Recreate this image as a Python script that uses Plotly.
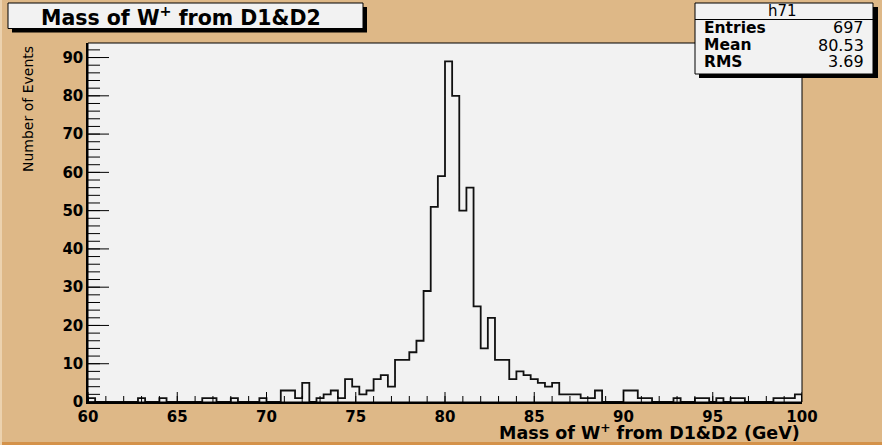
import numpy as np
import plotly.graph_objects as go

# ---------------- data ----------------
x_min, x_max, n_bins = 60.0, 100.0, 100
counts = [
    1, 0, 0, 0, 0, 0, 0, 1, 0, 0,      # 60.0 - 64.0
    1, 0, 0, 0, 0, 0, 1, 1, 0, 0,      # 64.0 - 68.0
    1, 0, 0, 0, 1, 0, 0, 3, 3, 1,      # 68.0 - 72.0
    5, 0, 1, 2, 3, 1, 6, 4, 2, 3,      # 72.0 - 76.0
    6, 7, 4, 11, 11, 13, 16, 29, 51, 59,   # 76.0 - 80.0
    89, 80, 50, 56, 25, 14, 22, 11, 11, 6, # 80.0 - 84.0
    8, 7, 6, 5, 4, 5, 2, 2, 2, 1,      # 84.0 - 88.0
    1, 3, 0, 0, 0, 3, 3, 1, 1, 0,      # 88.0 - 92.0
    0, 0, 1, 0, 0, 1, 1, 0, 1, 0,      # 92.0 - 96.0
    1, 1, 0, 0, 0, 0, 1, 1, 1, 2,      # 96.0 - 100.0
]
x_tick_vals = [60, 65, 70, 75, 80, 85, 90, 95, 100]
x_tick_labels = ["60", "65", "70", "75", "80", "85", "90", "95", "100"]
y_tick_vals = [0, 10, 20, 30, 40, 50, 60, 70, 80, 90]
y_tick_labels = ["0", "10", "20", "30", "40", "50", "60", "70", "80", "90"]
x_minor_step = 1
y_minor_step = 2
hist_name = "h71"
stat_labels = ["Entries", "Mean", "RMS"]
stat_values = ["697", "80.53", "3.69"]
title_text = "<b>Mass of W<sup>+</sup> from D1&D2</b>"
x_title = "<b>Mass of W<sup>+</sup> from D1&D2 (GeV)</b>"
y_title = "Number of Events"
y_max = 93.8

edges = np.linspace(x_min, x_max, n_bins + 1)
xs = [edges[0]] + list(edges) + [edges[-1]]
ys = [0] + list(counts) + [counts[-1], 0]

# ---------------- layout helpers ----------------
W, H = 882, 445
L, R, T, B = 88, 802, 43, 402
PW, PH = R - L, B - T


def px(x):
    return (x - L) / PW


def py(y):
    return (B - y) / PH


TAN = "#deb887"
PANEL = "#f2f2f2"
FONT = dict(family="DejaVu Sans", color="black")

fig = go.Figure()
fig.add_trace(go.Scatter(
    x=xs, y=ys, mode="lines", line=dict(color="#111111", width=1.8, shape="hv"),
    hoverinfo="skip", showlegend=False,
))

shapes = []
# plot frame
shapes.append(dict(type="rect", xref="paper", yref="paper", x0=0, x1=1, y0=0, y1=1,
                   line=dict(color="black", width=1), fillcolor="rgba(0,0,0,0)", layer="above"))

# inside tick marks, placed on the axes' own scales (length in pixels of the plot area)
TICK = dict(color="black", width=1)
x_minor = np.arange(x_min, x_max + x_minor_step / 2, x_minor_step)
y_minor = np.arange(0, y_max, y_minor_step)
for v in x_minor:
    shapes.append(dict(type="line", xref="x", yref="paper", x0=v, x1=v, y0=0, y1=6 / PH,
                       line=TICK, layer="above"))
for v in x_tick_vals:
    shapes.append(dict(type="line", xref="x", yref="paper", x0=v, x1=v, y0=0, y1=10 / PH,
                       line=TICK, layer="above"))
for v in y_minor:
    shapes.append(dict(type="line", xref="paper", yref="y", x0=0, x1=12 / PW, y0=v, y1=v,
                       line=TICK, layer="above"))
for v in y_tick_vals:
    shapes.append(dict(type="line", xref="paper", yref="y", x0=0, x1=21 / PW, y0=v, y1=v,
                       line=TICK, layer="above"))

# title box with shadow
shapes.append(dict(type="rect", xref="paper", yref="paper", x0=px(12), x1=px(367), y0=py(7), y1=py(32.5),
                   fillcolor="black", line=dict(width=0), layer="above"))
shapes.append(dict(type="rect", xref="paper", yref="paper", x0=px(8), x1=px(363), y0=py(3), y1=py(28.5),
                   fillcolor=PANEL, line=dict(color="black", width=1), layer="above"))
# stats box with shadow
shapes.append(dict(type="rect", xref="paper", yref="paper", x0=px(699), x1=px(878), y0=py(7), y1=py(78),
                   fillcolor="black", line=dict(width=0), layer="above"))
shapes.append(dict(type="rect", xref="paper", yref="paper", x0=px(695), x1=px(873), y0=py(3), y1=py(74),
                   fillcolor=PANEL, line=dict(color="black", width=1), layer="above"))
shapes.append(dict(type="line", xref="paper", yref="paper", x0=px(695), x1=px(873), y0=py(19.5), y1=py(19.5),
                   line=dict(color="black", width=1), layer="above"))
# canvas bevel (bottom darker strip, left lighter strip)
shapes.append(dict(type="rect", xref="paper", yref="paper", x0=px(0), x1=px(W), y0=py(H), y1=py(442),
                   fillcolor="#d4924a", line=dict(width=0), layer="above"))
shapes.append(dict(type="rect", xref="paper", yref="paper", x0=px(0), x1=px(2), y0=py(H), y1=py(0),
                   fillcolor="#ecd2ae", line=dict(width=0), layer="above"))

annotations = []
annotations.append(dict(xref="paper", yref="paper", x=px(181), y=py(16), text=title_text, showarrow=False,
                        xanchor="center", yanchor="middle", font=dict(size=20.5, **FONT)))
annotations.append(dict(xref="paper", yref="paper", x=px(782), y=py(11), text=hist_name, showarrow=False,
                        xanchor="center", yanchor="middle", font=dict(size=15, **FONT)))
for i, (lab, val) in enumerate(zip(stat_labels, stat_values)):
    yy = py(28 + i * 17)
    annotations.append(dict(xref="paper", yref="paper", x=px(702), y=yy, text="<b>" + lab + "</b>",
                            showarrow=False, xanchor="left", yanchor="middle", font=dict(size=15.5, **FONT)))
    annotations.append(dict(xref="paper", yref="paper", x=px(866), y=yy, text=val, showarrow=False,
                            xanchor="right", yanchor="middle", font=dict(size=16, **FONT)))
annotations.append(dict(xref="paper", yref="paper", x=px(802), y=py(432), text=x_title, showarrow=False,
                        xanchor="right", yanchor="middle", font=dict(size=17.5, **FONT)))
annotations.append(dict(xref="paper", yref="paper", x=px(28), y=py(44), text=y_title, showarrow=False,
                        textangle=-90, xanchor="center", yanchor="top", font=dict(size=14, **FONT)))

fig.update_layout(
    width=W, height=H,
    margin=dict(l=L, r=W - R, t=T, b=H - B),
    paper_bgcolor=TAN, plot_bgcolor=PANEL,
    shapes=shapes, annotations=annotations,
    showlegend=False,
)
fig.update_xaxes(
    range=[x_min, x_max], tickmode="array", tickvals=x_tick_vals,
    ticktext=["<b>" + t + "</b>" for t in x_tick_labels], ticks="",
    showgrid=False, zeroline=False, showline=True, linecolor="black", linewidth=1.5,
    tickfont=dict(size=15, **FONT),
)
fig.update_yaxes(
    range=[0, y_max], tickmode="array", tickvals=y_tick_vals,
    ticktext=["<b>" + t + "</b>" for t in y_tick_labels], ticks="",
    showgrid=False, zeroline=False, showline=True, linecolor="black", linewidth=1.5,
    tickfont=dict(size=15, **FONT),
)

fig.write_html("out.html")
